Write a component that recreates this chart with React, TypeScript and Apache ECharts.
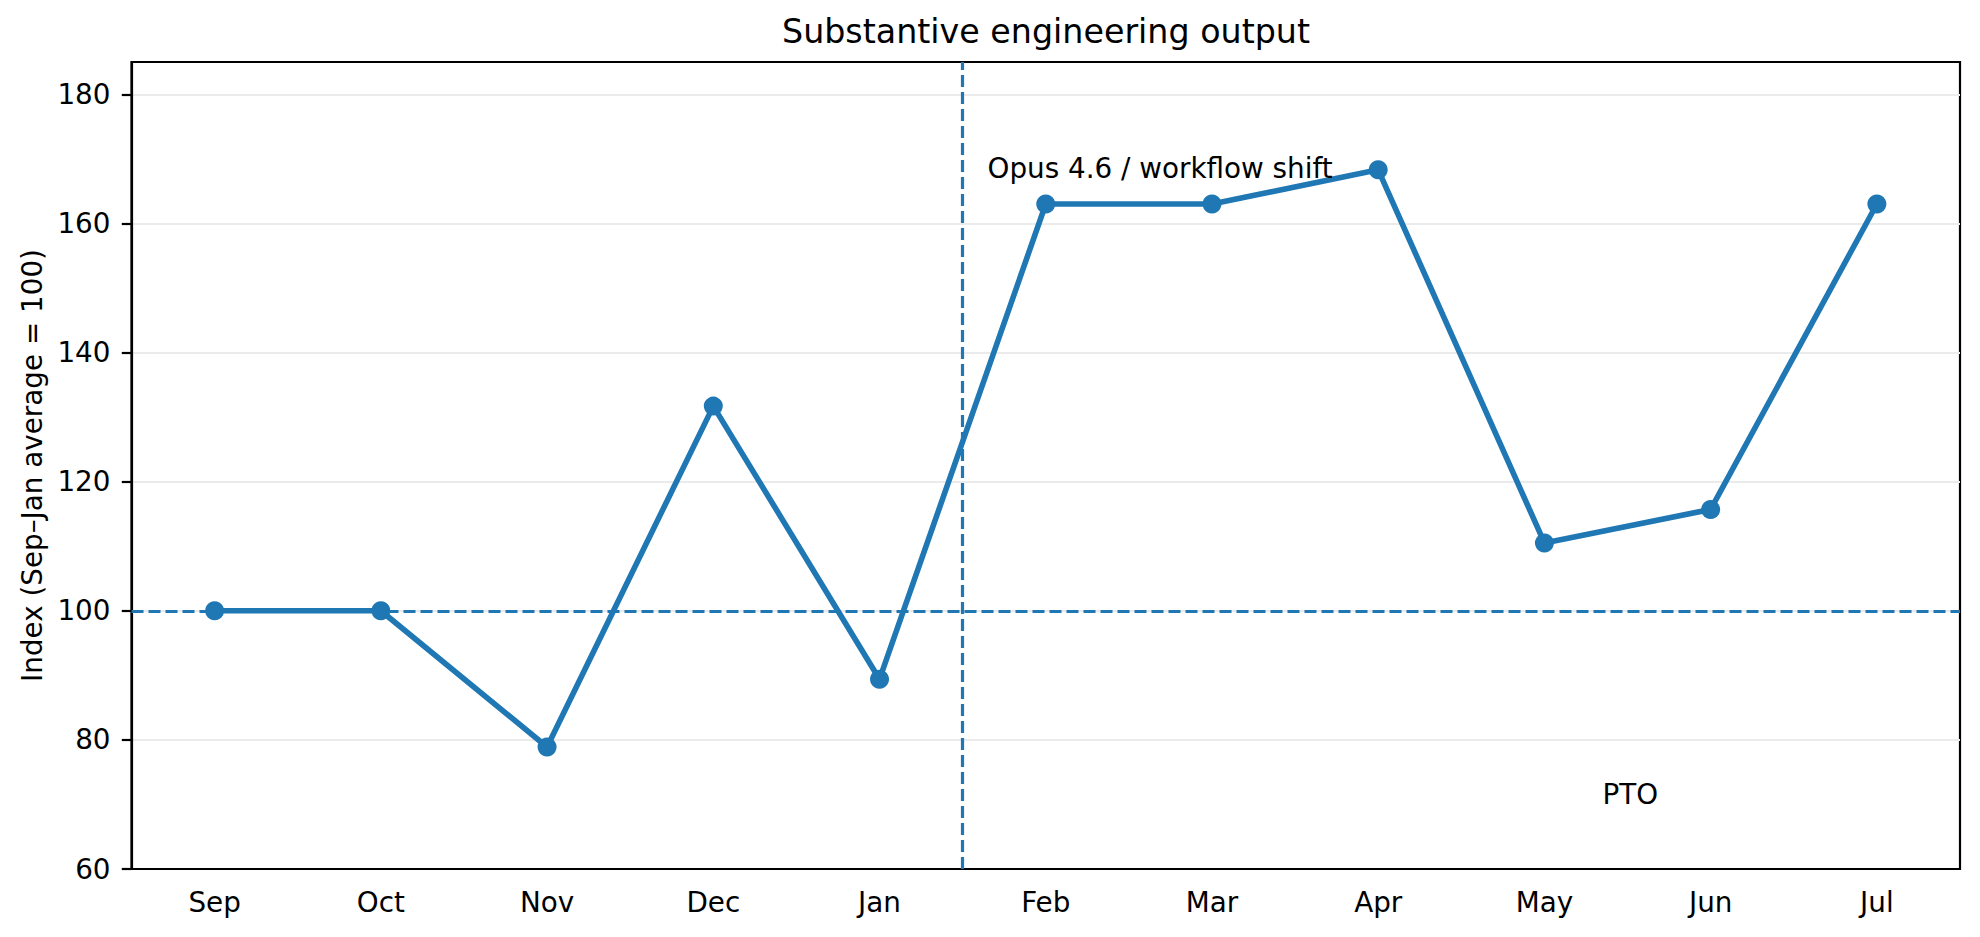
import { useRef, useEffect } from "react"
import * as echarts from "echarts"

const months = ["Sep", "Oct", "Nov", "Dec", "Jan", "Feb", "Mar", "Apr", "May", "Jun", "Jul"]
const output = [100, 100, 78.9, 131.7, 89.4, 163.0, 163.0, 168.3, 110.5, 115.7, 163.0]
const yTicks = [60, 80, 100, 120, 140, 160, 180]
const baselineValue = 100
const shiftPosition = 4.5
const noteX = [4.65, 8.35]
const noteY = [167, 70]
const noteText = ["Opus 4.6 / workflow shift", "PTO"]

const blue = "#1f77b4"
const font = "DejaVu Sans"
const textSize = 27.8

export default function App() {
  const chartRef = useRef<HTMLDivElement>(null)

  useEffect(() => {
    if (!chartRef.current) return
    const chart = echarts.init(chartRef.current, undefined, { renderer: "svg" })

    const dashed = { type: [12, 5] as number[], width: 3.2, color: blue }

    chart.setOption({
      animation: false,
      textStyle: { fontFamily: font, color: "#000" },
      title: {
        text: "Substantive engineering output",
        left: 1046,
        top: 15,
        padding: 0,
        textAlign: "center",
        textStyle: { fontFamily: font, fontSize: 33.3, fontWeight: "normal", color: "#000" },
      },
      grid: {
        left: 131.5,
        right: 20,
        top: 62,
        bottom: 68,
        containLabel: false,
        outerBoundsMode: "none",
        show: true,
        borderColor: "#000",
        borderWidth: 2.2,
      },
      xAxis: [
        {
          type: "category",
          data: months,
          boundaryGap: true,
          axisLine: { onZero: false, lineStyle: { color: "#000", width: 2.2 } },
          axisTick: { alignWithLabel: true, length: 9.7, lineStyle: { color: "#000", width: 2.2 } },
          axisLabel: { margin: 19, fontSize: textSize, color: "#000", fontFamily: font },
          splitLine: { show: false },
        },
        {
          type: "value",
          min: -0.5,
          max: 10.5,
          show: false,
          axisLine: { onZero: false },
        },
      ],
      yAxis: {
        type: "value",
        min: 60,
        max: 185,
        interval: 20,
        name: "Index (Sep–Jan average = 100)",
        nameLocation: "middle",
        nameGap: 85,
        nameRotate: 90,
        nameTextStyle: { fontSize: textSize, color: "#000", fontFamily: font },
        axisLine: { show: true, onZero: false, lineStyle: { color: "#000", width: 2.2 } },
        axisTick: { show: true, length: 9.7, customValues: yTicks, lineStyle: { color: "#000", width: 2.2 } },
        axisLabel: {
          margin: 21,
          fontSize: textSize,
          color: "#000",
          fontFamily: font,
          customValues: yTicks,
          formatter: (v: number) => (yTicks.includes(v) ? String(v) : ""),
        },
        splitLine: { show: true, lineStyle: { color: "#ebebeb", width: 2 } },
      },
      series: [
        {
          type: "scatter",
          xAxisIndex: 1,
          data: [],
          z: 1,
          markLine: {
            silent: true,
            symbol: ["none", "none"],
            label: { show: false },
            lineStyle: dashed,
            data: [{ xAxis: shiftPosition }, { yAxis: baselineValue }],
          },
        },
        {
          type: "line",
          data: output,
          z: 2,
          symbol: "circle",
          symbolSize: 19,
          lineStyle: { color: blue, width: 5.6 },
          itemStyle: { color: blue },
        },
        {
          type: "scatter",
          xAxisIndex: 1,
          z: 3,
          symbolSize: 0,
          itemStyle: { opacity: 1 },
          data: noteX.map((x, i) => [x, noteY[i], noteText[i]]),
          label: {
            show: true,
            position: [0, 0],
            align: "left",
            verticalAlign: "middle",
            offset: [0, -10],
            fontSize: textSize,
            color: "#000",
            opacity: 1,
            fontFamily: font,
            formatter: (p: any) => p.value[2],
          },
        },
      ],
    })

    return () => {
      chart.dispose()
    }
  }, [])

  return (
    <div
      ref={chartRef}
      style={{ position: "absolute", left: 0, top: 0, width: 1980, height: 937 }}
    />
  )
}
